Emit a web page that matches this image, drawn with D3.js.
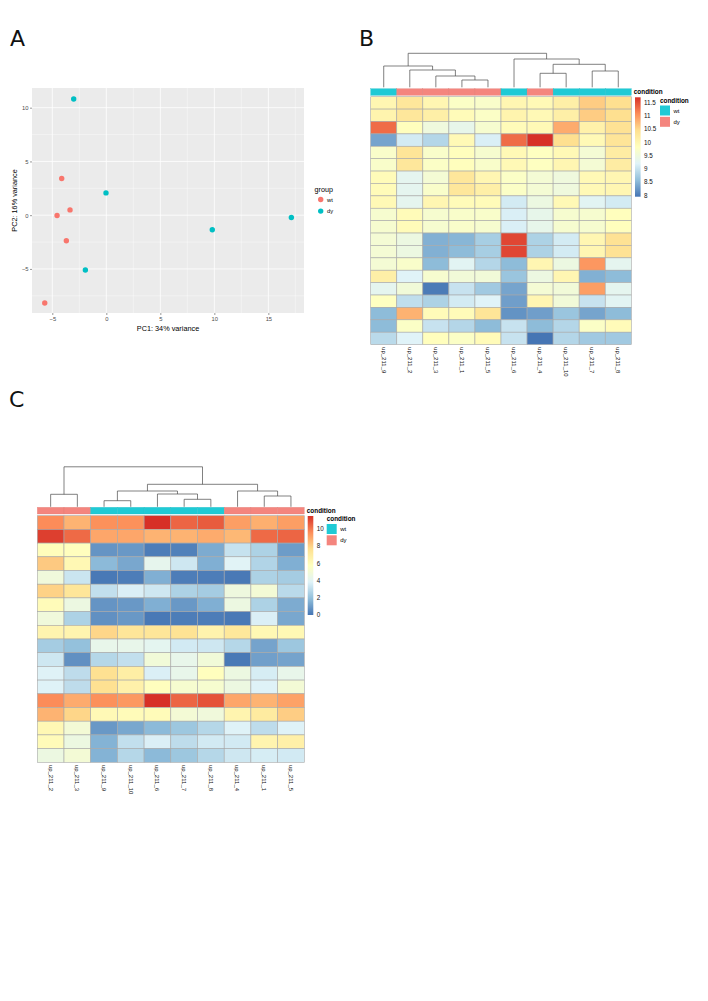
<!DOCTYPE html>
<html><head><meta charset="utf-8">
<script src="https://cdn.jsdelivr.net/npm/d3@7/dist/d3.min.js"></script>
<style>body{margin:0;background:#fff} text{fill:#111}</style>
</head><body>
<svg id="fig" width="708" height="1001"></svg>
<script>
// ---------- Panel A data (PCA) ----------
const pc1 = [-3.02, -4.13, -0.03, -3.36, -4.56, 9.81, 17.13, -3.70, -1.94, -5.70];
const pc2 = [10.8, 3.41, 2.07, 0.49, -0.03, -1.36, -0.21, -2.38, -5.1, -8.17];
const pcaGroup = ["dy","wt","dy","wt","wt","dy","dy","wt","dy","wt"];
const groupLevels = ["wt","dy"];
const xTicksA = [-5, 0, 5, 10, 15];
const yTicksA = [-5, 0, 5, 10];
const xMinorA = [-2.5, 2.5, 7.5, 12.5, 17.5];
const yMinorA = [-7.5, -2.5, 2.5, 7.5];

// ---------- Panel B data ----------
const colsB = ["up_211_9","up_211_2","up_211_3","up_211_1","up_211_5","up_211_6","up_211_4","up_211_10","up_211_7","up_211_8"];
const condB = ["wt","dy","dy","dy","dy","wt","dy","wt","wt","wt"];
const valuesB = [
 [10.0, 10.3, 10.0, 9.75, 9.7, 10.0, 9.95, 10.15, 10.6, 10.45],
 [10.05, 10.3, 10.15, 9.9, 9.75, 10.05, 9.95, 10.15, 10.6, 10.45],
 [11.3, 9.85, 9.5, 9.35, 9.65, 9.9, 9.95, 10.85, 10.1, 10.4],
 [8.35, 9.1, 8.85, 9.95, 9.15, 11.3, 11.7, 10.45, 9.95, 10.35],
 [9.7, 10.35, 9.7, 9.85, 9.65, 9.95, 9.8, 9.95, 9.6, 10.2],
 [9.7, 10.3, 9.75, 9.85, 9.7, 9.95, 9.8, 10.0, 9.6, 10.2],
 [9.9, 9.3, 9.6, 10.3, 10.0, 9.75, 9.6, 9.5, 9.95, 10.0],
 [9.9, 9.3, 9.7, 10.3, 10.15, 9.75, 9.6, 9.5, 9.95, 10.0],
 [9.95, 9.3, 10.0, 9.9, 9.9, 9.1, 9.45, 9.95, 9.25, 9.1],
 [9.65, 9.9, 9.65, 9.7, 9.7, 9.15, 9.35, 9.65, 9.65, 9.85],
 [9.65, 9.9, 9.65, 9.7, 9.65, 9.15, 9.35, 9.65, 9.65, 9.85],
 [9.6, 9.45, 8.45, 8.5, 8.75, 11.55, 8.8, 9.1, 10.0, 10.4],
 [9.6, 9.45, 8.45, 8.55, 8.75, 11.55, 8.8, 9.1, 10.0, 10.4],
 [9.6, 9.7, 8.55, 9.25, 8.85, 8.55, 10.0, 9.45, 11.0, 9.3],
 [10.15, 9.2, 9.65, 9.55, 9.55, 8.65, 9.45, 10.0, 8.45, 8.55],
 [9.3, 9.55, 8.0, 9.0, 8.7, 8.35, 9.6, 9.55, 10.95, 9.3],
 [9.8, 8.95, 8.8, 9.1, 9.2, 8.3, 10.0, 9.55, 9.0, 9.25],
 [8.55, 10.8, 9.9, 9.9, 10.35, 8.2, 8.3, 8.65, 8.35, 8.55],
 [8.55, 9.75, 9.0, 8.85, 8.55, 9.0, 8.55, 8.85, 9.75, 9.9],
 [8.9, 9.2, 9.85, 9.75, 9.9, 9.0, 7.95, 8.85, 8.7, 8.7]
];
// hclust-like merges: [left, right, height]; negative = leaf (1-based column), positive = earlier merge
const mergesB = [
 [-4, -5, 7.3], [-3, 1, 11.3], [-2, 2, 17.3], [-1, 3, 21.3],
 [-7, -8, 14], [-9, -10, 16.3], [5, 6, 23], [-6, 7, 28.3], [4, 8, 34]
];
const legendTicksB = [8, 8.5, 9, 9.5, 10, 10.5, 11, 11.5];
const rangeB = [7.95, 11.7];

// ---------- Panel C data ----------
const colsC = ["up_211_2","up_211_3","up_211_9","up_211_10","up_211_6","up_211_7","up_211_8","up_211_4","up_211_1","up_211_5"];
const condC = ["dy","dy","wt","wt","wt","wt","wt","dy","dy","dy"];
const valuesC = [
 [9.6, 8.7, 9.5, 9.5, 11.5, 10.4, 10.6, 9.2, 8.8, 9.2],
 [11.2, 10.3, 9.0, 9.0, 8.7, 8.7, 8.9, 8.6, 10.3, 10.4],
 [5.9, 5.8, 0.8, 0.9, 0.2, 0.3, 1.4, 3.2, 2.6, 1.0],
 [8.2, 6.2, 1.8, 1.3, 4.2, 3.4, 1.5, 3.9, 2.7, 1.5],
 [4.8, 3.3, 0.1, 0.2, 1.5, 0.2, 0.2, 0.1, 2.6, 2.4],
 [8.0, 7.3, 3.1, 3.7, 3.4, 2.6, 2.4, 4.7, 5.0, 2.9],
 [6.0, 4.6, 0.8, 0.9, 1.5, 0.9, 1.5, 4.6, 2.6, 1.4],
 [4.8, 2.6, 0.7, 0.9, 0.1, 0.2, 0.2, 0.1, 3.7, 1.3],
 [6.4, 6.4, 7.9, 7.3, 7.3, 7.5, 6.5, 7.2, 6.2, 6.2],
 [2.4, 2.0, 4.3, 4.3, 4.1, 3.5, 3.4, 2.8, 1.2, 2.2],
 [3.4, 0.7, 2.8, 3.1, 4.9, 4.3, 4.9, 0.1, 1.1, 1.2],
 [3.8, 3.0, 7.6, 6.8, 3.7, 4.3, 5.8, 4.6, 3.6, 4.3],
 [3.8, 3.0, 7.6, 6.6, 5.8, 5.2, 5.2, 4.6, 3.8, 5.0],
 [9.6, 8.9, 9.5, 9.3, 11.5, 10.4, 10.8, 9.0, 8.7, 9.1],
 [8.7, 7.9, 6.1, 6.0, 6.0, 5.0, 4.8, 6.4, 7.0, 8.1],
 [6.2, 5.0, 0.9, 1.3, 1.8, 2.2, 2.8, 3.8, 3.0, 3.8],
 [6.0, 4.6, 1.6, 3.1, 3.7, 3.0, 3.5, 3.5, 6.4, 6.7],
 [4.6, 5.0, 1.6, 2.8, 1.8, 2.2, 2.8, 3.4, 3.6, 3.5]
];
const mergesC = [
 [-3, -4, 6.1], [-6, -7, 7.5], [-5, 2, 12.8], [1, 3, 15.8],
 [-9, -10, 10.8], [-8, 5, 15.8], [4, 6, 22.5], [-1, -2, 12.5], [8, 7, 40]
];
const legendTicksC = [0, 2, 4, 6, 8, 10];
const rangeC = [0, 11.5];

// ---------- styles ----------
const pcaColors = {wt: "#F8766D", dy: "#00BFC4"};
const annColors = {wt: "#1FCAD5", dy: "#F4857E"};
const palette = ["#4575B4","#91BFDB","#E0F3F8","#FFFFBF","#FEE090","#FC8D59","#D73027"];
const FONT = "'Liberation Sans', Arial, sans-serif";

const svg = d3.select("#fig");
svg.append("rect").attr("width", 708).attr("height", 1001).attr("fill", "#fff");

// panel letters
[["A", 10, 46], ["B", 359, 46], ["C", 9, 407]].forEach(([t, x, y]) => {
  svg.append("text").attr("x", x).attr("y", y).text(t)
    .attr("font-family", "'DejaVu Sans', sans-serif").attr("font-size", 22).style("fill", "#111");
});

// ================= Panel A =================
(function(){
  const x = d3.scaleLinear().domain([-6.88, 18.3]).range([32, 304]);
  const y = d3.scaleLinear().domain([-9.1, 11.83]).range([313, 88]);
  const g = svg.append("g");
  g.append("rect").attr("x", 32).attr("y", 88).attr("width", 272).attr("height", 225).attr("fill", "#EBEBEB");
  xMinorA.forEach(v => g.append("line").attr("x1", x(v)).attr("x2", x(v)).attr("y1", 88).attr("y2", 313).attr("stroke", "#fff").attr("stroke-width", 0.4));
  yMinorA.forEach(v => g.append("line").attr("y1", y(v)).attr("y2", y(v)).attr("x1", 32).attr("x2", 304).attr("stroke", "#fff").attr("stroke-width", 0.4));
  xTicksA.forEach(v => g.append("line").attr("x1", x(v)).attr("x2", x(v)).attr("y1", 88).attr("y2", 313).attr("stroke", "#fff").attr("stroke-width", 0.8));
  yTicksA.forEach(v => g.append("line").attr("y1", y(v)).attr("y2", y(v)).attr("x1", 32).attr("x2", 304).attr("stroke", "#fff").attr("stroke-width", 0.8));

  const ax = g.append("g").attr("transform", "translate(0,313)")
    .call(d3.axisBottom(x).tickValues(xTicksA).tickSize(2).tickPadding(1.5));
  const ay = g.append("g").attr("transform", "translate(32,0)")
    .call(d3.axisLeft(y).tickValues(yTicksA).tickSize(2).tickPadding(1.5));
  [ax, ay].forEach(a => {
    a.select(".domain").remove();
    a.selectAll("line").attr("stroke", "#333").attr("stroke-width", 0.5);
    a.selectAll("text").style("fill", "#4D4D4D").attr("font-size", 5.8).attr("font-family", FONT);
  });

  g.selectAll("circle.pt").data(pc1.map((v, i) => ({x: v, y: pc2[i], g: pcaGroup[i]})))
    .join("circle").attr("class", "pt")
    .attr("cx", d => x(d.x)).attr("cy", d => y(d.y)).attr("r", 2.7)
    .attr("fill", d => pcaColors[d.g]);

  g.append("text").attr("x", 168).attr("y", 331).attr("text-anchor", "middle")
    .attr("font-family", FONT).attr("font-size", 7.3).style("fill", "#000").text("PC1: 34% variance");
  g.append("text").attr("transform", "translate(17,200.5) rotate(-90)").attr("text-anchor", "middle")
    .attr("font-family", FONT).attr("font-size", 7.3).style("fill", "#000").text("PC2: 16% variance");

  g.append("text").attr("x", 314.5).attr("y", 191.5).attr("font-family", FONT).attr("font-size", 7.2).style("fill", "#000").text("group");
  groupLevels.forEach((lv, i) => {
    const cy = 199.5 + i * 11.6;
    g.append("circle").attr("cx", 320.7).attr("cy", cy).attr("r", 2.7).attr("fill", pcaColors[lv]);
    g.append("text").attr("x", 327).attr("y", cy).attr("dy", "0.35em").attr("font-family", FONT).attr("font-size", 5.8).style("fill", "#000").text(lv);
  });
})();

// ================= Heatmap helper =================
function heatmap(opt) {
  const g = svg.append("g");
  const nR = opt.values.length, nC = opt.cols.length;
  const x = d3.scaleBand().domain(d3.range(nC)).range([opt.x0, opt.x1]);
  const y = d3.scaleBand().domain(d3.range(nR)).range([opt.y0, opt.y1]);
  const color = d3.scaleLinear()
    .domain(palette.map((c, i) => opt.range[0] + i * (opt.range[1] - opt.range[0]) / 6))
    .range(palette).clamp(true);
  const border = "#A8A8A8";

  opt.values.forEach((row, r) => row.forEach((v, c) => {
    g.append("rect").attr("x", x(c)).attr("y", y(r)).attr("width", x.bandwidth()).attr("height", y.bandwidth())
      .attr("fill", color(v)).attr("stroke", border).attr("stroke-width", 0.6);
  }));

  opt.cond.forEach((cv, c) => {
    g.append("rect").attr("x", x(c)).attr("y", opt.annY0).attr("width", x.bandwidth()).attr("height", opt.annH)
      .attr("fill", annColors[cv]).attr("stroke", d3.color(annColors[cv]).darker(0.25)).attr("stroke-width", 0.3);
  });
  g.append("text").attr("x", opt.x1 + 2.5).attr("y", opt.annY0 + opt.annH / 2).attr("dy", "0.35em")
    .attr("font-family", FONT).attr("font-weight", "bold").attr("font-size", 6.4).style("fill", "#000").text("condition");

  const hy = d3.scaleLinear().domain([0, opt.treeMax]).range([opt.leafY, opt.rootY]);
  const pos = [];
  const child = k => k < 0 ? {x: x(-k - 1) + x.bandwidth() / 2, h: 0} : pos[k - 1];
  opt.merges.forEach(([a, b, h]) => {
    const ca = child(a), cb = child(b);
    pos.push({x: (ca.x + cb.x) / 2, h});
    g.append("path").attr("d", `M${ca.x},${hy(ca.h)}V${hy(h)}H${cb.x}V${hy(cb.h)}`)
      .attr("fill", "none").attr("stroke", "#4a4a4a").attr("stroke-width", 0.7);
  });

  opt.cols.forEach((lab, c) => {
    g.append("text").attr("transform", `translate(${x(c) + x.bandwidth() / 2},${opt.y1 + 2.5}) rotate(90)`)
      .attr("dy", "0.35em").attr("font-family", FONT).attr("font-size", 6).style("fill", "#111").text(lab);
  });

  const ly = d3.scaleLinear().domain(opt.range).range([opt.legY1, opt.legY0]);
  const gid = "grad" + opt.id;
  const grad = svg.append("defs").append("linearGradient").attr("id", gid)
    .attr("x1", 0).attr("x2", 0).attr("y1", 1).attr("y2", 0);
  palette.forEach((c, i) => grad.append("stop").attr("offset", i / 6).attr("stop-color", c));
  g.append("rect").attr("x", opt.legX).attr("y", opt.legY0).attr("width", 5.6).attr("height", opt.legY1 - opt.legY0)
    .attr("fill", `url(#${gid})`);
  opt.legTicks.forEach(t => {
    g.append("text").attr("x", opt.legX + 9).attr("y", ly(t)).attr("dy", "0.35em")
      .attr("font-family", FONT).attr("font-size", 6.3).style("fill", "#111").text(t);
  });

  g.append("text").attr("x", opt.leg2X).attr("y", opt.leg2Y).attr("dy", "0.35em")
    .attr("font-family", FONT).attr("font-weight", "bold").attr("font-size", 6.4).style("fill", "#000").text("condition");
  ["wt", "dy"].forEach((lv, i) => {
    const by = opt.leg2Y + 5 + i * 11.3;
    g.append("rect").attr("x", opt.leg2X).attr("y", by).attr("width", 10).attr("height", 10).attr("fill", annColors[lv]);
    g.append("text").attr("x", opt.leg2X + 13.5).attr("y", by + 5).attr("dy", "0.35em")
      .attr("font-family", FONT).attr("font-size", 6).style("fill", "#000").text(lv);
  });
}

heatmap({
  id: "B", values: valuesB, cols: colsB, cond: condB, merges: mergesB, range: rangeB, legTicks: legendTicksB,
  x0: 370.7, x1: 631.3, y0: 96.7, y1: 344.6, annY0: 88.7, annH: 6.6,
  leafY: 87.3, rootY: 53.3, treeMax: 34,
  legX: 635, legY0: 97.3, legY1: 196.7, leg2X: 660, leg2Y: 100.5
});

heatmap({
  id: "C", values: valuesC, cols: colsC, cond: condC, merges: mergesC, range: rangeC, legTicks: legendTicksC,
  x0: 37.3, x1: 304.3, y0: 515.7, y1: 762.3, annY0: 507.3, annH: 6.7,
  leafY: 506.8, rootY: 466.8, treeMax: 40,
  legX: 307.7, legY0: 516, legY1: 615, leg2X: 326.7, leg2Y: 519
});
</script>
</body></html>
